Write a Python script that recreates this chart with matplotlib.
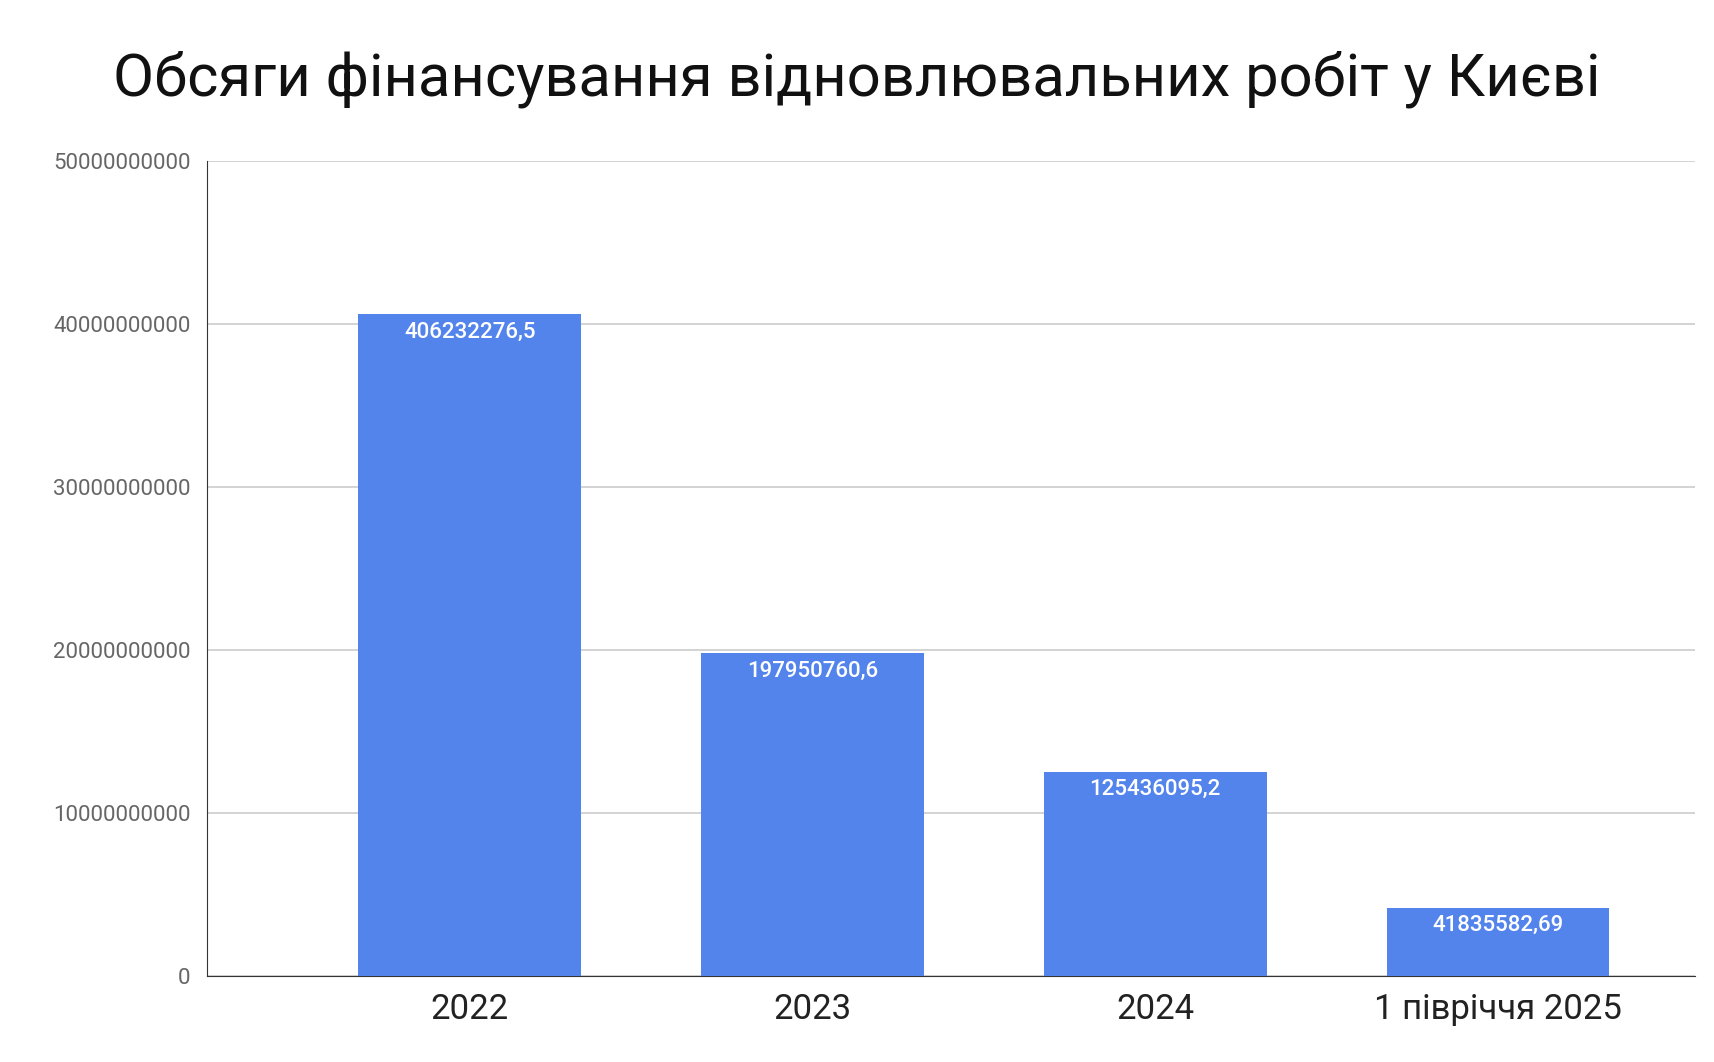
import matplotlib
matplotlib.use("Agg")
import matplotlib.pyplot as plt

categories = ["2022", "2023", "2024", "1 півріччя 2025"]
values = [40623227650, 19795076060, 12543609520, 4183558269]
value_labels = ["406232276,5", "197950760,6", "125436095,2", "41835582,69"]
yticks = [0, 10000000000, 20000000000, 30000000000, 40000000000, 50000000000]

plt.rcParams['font.family'] = ['Roboto', 'DejaVu Sans']
fig = plt.figure(figsize=(17.14, 10.62), dpi=100)
ax = fig.add_axes([0.121, 0.081, 0.868, 0.767])
x = range(len(categories))
bars = ax.bar(x, values, width=0.65, color="#5384ec", zorder=3)
for b, lab in zip(bars, value_labels):
    ax.text(b.get_x() + b.get_width() / 2, b.get_height() - 450000000, lab,
            ha="center", va="top", color="white", fontsize=16, fontweight="medium", zorder=4)
ax.set_ylim(0, 50000000000)
ax.set_xlim(-0.765, 3.575)
ax.set_yticks(yticks)
ax.set_yticklabels([str(v) for v in yticks], color="#666666", fontsize=16)
ax.set_xticks(list(x))
ax.set_xticklabels(categories, fontsize=25, color="#222222")
ax.yaxis.grid(True, color="#cccccc", linewidth=1.2, zorder=0)
for s in ["top", "right"]:
    ax.spines[s].set_visible(False)
ax.spines["left"].set_color("#333333")
ax.spines["bottom"].set_color("#333333")
ax.tick_params(axis="both", length=0, pad=12)
fig.text(0.5, 0.925, "Обсяги фінансування відновлювальних робіт у Києві",
         ha="center", va="center", fontsize=43, color="#111111")
fig.savefig("out.png", dpi=100, facecolor="white")
